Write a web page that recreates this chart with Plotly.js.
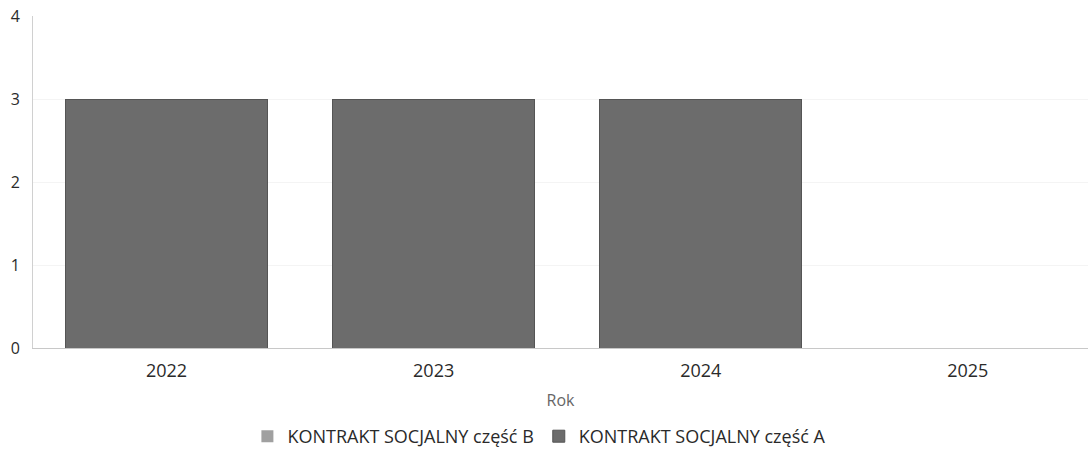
<!DOCTYPE html>
<html><head><meta charset="utf-8">
<script src="https://cdn.plot.ly/plotly-3.0.1.min.js"></script>
<style>html,body{margin:0;padding:0;background:#fff}#chart{width:1088px;height:455px}</style>
</head><body><div id="chart"></div>
<script>
const years = ['2022', '2023', '2024', '2025'];
const partB = [0, 0, 0, 0];
const partA = [3, 3, 3, 0];
const seriesNames = ['KONTRAKT SOCJALNY część B', 'KONTRAKT SOCJALNY część A'];
const yTicks = [0, 1, 2, 3, 4];

const data = [
  {type: 'bar', x: years, y: partB, name: seriesNames[0], marker: {color: '#a0a0a0'}, hoverinfo: 'none'},
  {type: 'bar', x: years, y: partA, name: seriesNames[1], marker: {color: '#6c6c6c', line: {color: '#555', width: 1}}, hoverinfo: 'none'}
];
const layout = {
  width: 1088, height: 455,
  margin: {l: 33, r: 0, t: 16, b: 107},
  barmode: 'stack', bargap: 0.243,
  paper_bgcolor: '#fff', plot_bgcolor: '#fff',
  font: {family: 'Open Sans, Noto Sans, sans-serif', color: '#333', size: 16},
  showlegend: true,
  legend: {orientation: 'h', x: 0.48, xanchor: 'center', y: -0.268, yanchor: 'middle', font: {size: 18, color: '#2a2a2a'}, traceorder: 'normal', itemwidth: 30},
  xaxis: {type: 'category', range: [-0.5, 3.45], showline: true, linecolor: '#c8c8c8', linewidth: 1, ticks: 'outside', ticklen: 6, tickcolor: 'rgba(0,0,0,0)', tickfont: {size: 18, color: '#2a2a2a'},
          title: {text: 'Rok', font: {size: 16, color: '#666'}, standoff: 14}},
  yaxis: {range: [0, 4], tickvals: yTicks, showgrid: true, gridcolor: '#f4f4f4', zeroline: false, showline: true, linecolor: '#d0d0d0', ticks: '', ticklabelstandoff: 9, tickfont: {size: 16, color: '#2a2a2a'}}
};
Plotly.newPlot('chart', data, layout, {displayModeBar: false, staticPlot: true});
</script></body></html>
